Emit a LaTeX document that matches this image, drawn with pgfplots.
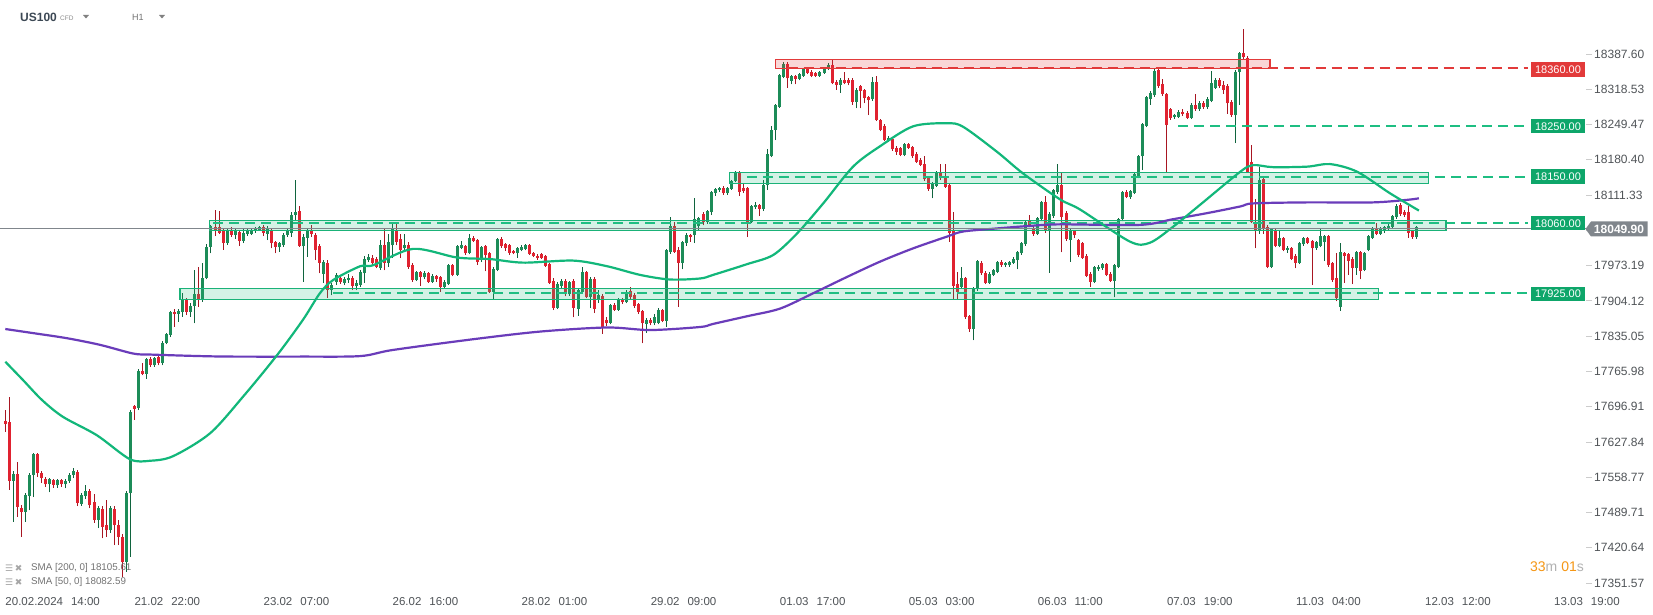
\documentclass[border=0pt]{standalone}
\usepackage{fontspec}
\setmainfont{Liberation Sans}
\newfontfamily\dejavu{DejaVu Sans}
\usepackage{pgfplots}
\usepackage{pgfplotstable}
\pgfplotsset{compat=1.18}
\definecolor{cgreen}{RGB}{28,140,88}
\definecolor{cgreenD}{RGB}{16,100,62}
\definecolor{cred}{RGB}{224,34,48}
\definecolor{credD}{RGB}{168,22,34}
\definecolor{smafifty}{RGB}{18,183,122}
\definecolor{smatwo}{RGB}{106,60,186}
\definecolor{zoneG}{RGB}{26,178,120}
\definecolor{zoneGfill}{RGB}{43,191,133}
\definecolor{dashG}{RGB}{30,190,130}
\definecolor{labG}{RGB}{14,166,106}
\definecolor{zoneR}{RGB}{226,58,58}
\definecolor{tickgray}{RGB}{80,84,88}
\definecolor{pricegray}{RGB}{128,134,140}
\definecolor{orangec}{RGB}{245,150,20}
\definecolor{headc}{RGB}{60,72,84}

\pgfplotstableread{
x o h l c
0 17669 17690 17648 17663
1 17666 17716 17534 17552
2 17552 17570 17472 17566
3 17566 17589 17481 17501
4 17498 17504 17442 17491
5 17491 17528 17472 17523
6 17522 17568 17494 17563
7 17563 17606 17520 17604
8 17604 17606 17560 17568
9 17567 17570 17547 17557
10 17556 17560 17540 17545
11 17545 17558 17529 17555
12 17554 17556 17538 17544
13 17543 17556 17538 17553
14 17553 17556 17540 17545
15 17545 17556 17537 17552
16 17552 17568 17548 17563
17 17563 17576 17557 17570
18 17569 17572 17502 17508
19 17507 17528 17503 17523
20 17522 17544 17516 17532
21 17532 17536 17498 17504
22 17510 17525 17470 17475
23 17475 17502 17459 17498
24 17497 17502 17439 17462
25 17465 17514 17442 17455
26 17455 17503 17450 17498
27 17497 17502 17426 17465
28 17465 17475 17426 17442
29 17442 17448 17364 17393
30 17393 17532 17374 17527
31 17527 17690 17403 17687
32 17698 17700 17671 17693
33 17695 17770 17690 17766
34 17766 17782 17758 17761
35 17761 17793 17752 17790
36 17791 17795 17775 17779
37 17778 17795 17775 17792
38 17794 17797 17778 17782
39 17782 17825 17778 17822
40 17822 17842 17819 17839
41 17838 17884 17833 17882
42 17882 17889 17853 17878
43 17878 17889 17863 17884
44 17882 17919 17873 17906
45 17906 17909 17876 17883
46 17883 17900 17873 17895
47 17894 17965 17860 17918
48 17917 17971 17893 17908
49 17908 17978 17902 17948
50 17948 18015 17946 18010
51 18010 18053 17997 18050
52 18049 18083 18031 18043
53 18048 18080 18035 18038
54 18041 18045 18004 18018
55 18018 18045 18014 18041
56 18041 18048 18030 18034
57 18034 18044 18026 18040
58 18039 18043 18012 18022
59 18022 18044 18017 18038
60 18035 18046 18032 18041
61 18036 18046 18033 18043
62 18040 18048 18038 18045
63 18043 18051 18041 18048
64 18048 18052 18031 18038
65 18036 18050 18023 18045
66 18040 18046 18007 18017
67 18020 18022 17997 18010
68 18009 18020 18000 18017
69 18013 18037 18010 18033
70 18033 18046 18030 18041
71 18037 18079 18030 18072
72 18072 18141 18062 18079
73 18080 18090 18010 18012
74 18011 18035 17942 18029
75 18028 18046 17991 18043
76 18043 18053 18030 18035
77 18034 18038 17984 18004
78 18012 18015 17958 17979
79 17957 17985 17940 17980
80 17979 17984 17910 17926
81 17925 17940 17915 17935
82 17942 17958 17935 17955
83 17948 17950 17938 17942
84 17940 17950 17935 17946
85 17945 17956 17940 17949
86 17949 17952 17925 17933
87 17933 17945 17925 17940
88 17936 17965 17932 17960
89 17958 17992 17940 17987
90 17984 17996 17980 17991
91 17989 17994 17975 17978
92 17987 17990 17968 17971
93 17968 18023 17965 18013
94 18013 18045 17964 17979
95 17979 18036 17970 18019
96 18013 18056 17988 18046
97 18043 18056 18013 18020
98 18025 18036 17988 18003
99 18007 18036 18000 18013
100 18013 18020 17967 17970
101 17974 17978 17942 17945
102 17945 17962 17943 17960
103 17960 17963 17933 17951
104 17950 17962 17946 17959
105 17959 17961 17940 17942
106 17942 17956 17940 17953
107 17953 17955 17942 17946
108 17951 17953 17922 17932
109 17931 17945 17928 17942
110 17937 17976 17935 17974
111 17974 17977 17952 17955
112 17955 18013 17953 18011
113 18008 18021 18005 18013
114 18011 18014 17994 17997
115 17998 18036 17995 18028
116 18028 18031 18019 18022
117 18023 18026 17975 17981
118 17984 18012 17980 18010
119 18011 18014 17962 17994
120 17998 18000 17920 17922
121 17922 17970 17906 17966
122 17965 18028 17962 18025
123 18025 18029 18008 18011
124 18015 18018 18002 18007
125 18013 18016 17994 17998
126 18002 18004 17995 17997
127 17997 18009 17989 18007
128 18004 18013 18001 18010
129 18005 18016 18003 18013
130 18013 18015 17994 17996
131 17998 18000 17990 17992
132 17992 17996 17985 17989
133 17996 17998 17986 17989
134 17992 17994 17970 17973
135 17976 17978 17937 17940
136 17943 17948 17886 17891
137 17891 17941 17888 17937
138 17933 17946 17928 17943
139 17943 17946 17913 17917
140 17917 17944 17914 17941
141 17943 17946 17872 17891
142 17889 17928 17875 17925
143 17922 17970 17920 17960
144 17960 17963 17909 17911
145 17911 17950 17890 17947
146 17947 17951 17880 17889
147 17907 17925 17900 17915
148 17914 17918 17840 17853
149 17866 17872 17855 17860
150 17861 17898 17858 17896
151 17897 17900 17884 17887
152 17887 17909 17885 17906
153 17906 17910 17898 17901
154 17901 17925 17899 17922
155 17923 17932 17908 17912
156 17916 17919 17890 17894
157 17898 17900 17878 17883
158 17884 17887 17821 17860
159 17859 17870 17842 17867
160 17867 17870 17856 17860
161 17860 17878 17856 17872
162 17861 17890 17858 17886
163 17886 17889 17862 17865
164 17865 18006 17853 18004
165 18000 18069 17996 18051
166 18051 18058 17998 18000
167 18003 18010 17893 17979
168 17979 18022 17966 18020
169 18017 18038 18012 18034
170 18034 18036 18020 18030
171 18033 18105 18017 18064
172 18050 18068 18042 18066
173 18074 18078 18052 18059
174 18059 18083 18055 18081
175 18078 18119 18072 18117
176 18115 18126 18110 18124
177 18121 18128 18118 18126
178 18126 18129 18112 18115
179 18115 18128 18112 18126
180 18124 18141 18122 18139
181 18139 18158 18136 18156
182 18154 18158 18110 18118
183 18126 18135 18115 18120
184 18126 18128 18029 18059
185 18059 18092 18056 18090
186 18087 18098 18084 18092
187 18092 18094 18070 18085
188 18085 18141 18080 18131
189 18131 18202 18121 18191
190 18188 18247 18185 18239
191 18239 18290 18219 18288
192 18284 18348 18282 18346
193 18343 18372 18340 18368
194 18368 18372 18322 18340
195 18335 18347 18328 18344
196 18344 18347 18328 18339
197 18339 18350 18336 18348
198 18345 18360 18343 18358
199 18358 18361 18348 18350
200 18353 18356 18342 18345
201 18351 18353 18343 18345
202 18345 18355 18343 18353
203 18351 18360 18349 18358
204 18358 18370 18356 18366
205 18366 18377 18328 18330
206 18333 18336 18318 18327
207 18327 18340 18312 18337
208 18337 18352 18328 18331
209 18337 18340 18326 18331
210 18337 18340 18288 18294
211 18294 18322 18281 18318
212 18324 18327 18281 18315
213 18317 18319 18291 18301
214 18304 18306 18268 18297
215 18299 18343 18296 18333
216 18333 18344 18256 18258
217 18258 18261 18236 18239
218 18247 18250 18217 18219
219 18218 18227 18215 18224
220 18222 18225 18198 18201
221 18204 18208 18190 18196
222 18204 18206 18187 18190
223 18190 18213 18187 18211
224 18211 18214 18202 18204
225 18206 18208 18184 18187
226 18192 18195 18174 18177
227 18180 18183 18168 18171
228 18173 18188 18139 18142
229 18145 18148 18120 18123
230 18123 18136 18105 18134
231 18130 18159 18127 18156
232 18154 18173 18141 18144
233 18147 18173 18126 18128
234 18131 18134 18020 18038
235 18043 18079 17906 17933
236 17937 17961 17906 17922
237 17932 17971 17928 17948
238 17948 17951 17869 17872
239 17874 17877 17844 17850
240 17850 17931 17827 17929
241 17927 17984 17924 17982
242 17979 17982 17955 17958
243 17959 17962 17937 17940
244 17940 17960 17938 17957
245 17955 17967 17952 17965
246 17961 17983 17958 17981
247 17981 17984 17971 17974
248 17974 17981 17970 17979
249 17974 17983 17971 17981
250 17979 17990 17976 17986
251 17984 18002 17966 18000
252 17997 18019 17994 18017
253 18015 18061 18012 18059
254 18062 18072 18048 18051
255 18046 18050 18032 18036
256 18036 18068 18033 18066
257 18064 18099 18060 18097
258 18097 18110 18038 18042
259 18040 18078 17959 18074
260 18070 18124 18066 18121
261 18118 18172 18114 18131
262 18131 18157 17999 18069
263 18076 18080 18022 18025
264 18023 18046 17981 18043
265 18040 18043 18028 18033
266 18023 18026 17990 17994
267 18017 18020 17986 17989
268 17992 17995 17950 17953
269 17957 17960 17932 17942
270 17942 17972 17939 17970
271 17966 17974 17963 17971
272 17968 17979 17965 17976
273 17976 17979 17952 17955
274 17957 17960 17941 17944
275 17944 17977 17911 17974
276 17971 18066 17968 18064
277 18064 18120 18060 18117
278 18118 18121 18105 18108
279 18107 18122 18104 18119
280 18116 18156 18113 18153
281 18147 18190 18144 18187
282 18187 18253 18160 18250
283 18247 18306 18244 18303
284 18299 18315 18288 18312
285 18307 18358 18304 18355
286 18356 18359 18322 18325
287 18329 18338 18306 18309
288 18309 18312 18157 18249
289 18279 18282 18259 18262
290 18264 18271 18261 18268
291 18265 18278 18262 18275
292 18275 18279 18266 18270
293 18273 18276 18260 18263
294 18263 18291 18260 18288
295 18288 18309 18276 18279
296 18279 18295 18276 18292
297 18292 18295 18280 18283
298 18283 18303 18280 18300
299 18296 18355 18293 18331
300 18322 18340 18319 18337
301 18337 18340 18321 18324
302 18327 18334 18310 18318
303 18325 18328 18271 18291
304 18294 18297 18265 18268
305 18268 18356 18213 18353
306 18352 18392 18288 18389
307 18389 18436 18378 18381
308 18379 18383 18155 18157
309 18177 18209 18056 18059
310 18059 18103 18007 18040
311 18040 18167 18036 18141
312 18142 18146 18036 18046
313 18049 18052 17968 17971
314 17971 18046 17968 18044
315 18043 18046 18009 18012
316 18012 18043 18009 18027
317 18027 18030 18001 18004
318 18004 18012 17998 18008
319 18007 18010 17984 17987
320 17992 17995 17968 17979
321 17979 18020 17976 18017
322 18015 18030 18012 18027
323 18027 18030 18015 18018
324 18021 18024 17935 18007
325 18007 18022 18004 18019
326 18012 18045 18009 18031
327 18020 18034 17982 18031
328 18031 18034 17971 17974
329 17978 17981 17942 17945
330 17948 17997 17903 17909
331 17893 18017 17885 18000
332 17997 18000 17940 17992
333 17995 17998 17955 17983
334 17987 17990 17937 17969
335 17969 18002 17955 17999
336 17999 18002 17946 17963
337 17965 18000 17962 17997
338 18004 18034 18001 18031
339 18028 18048 18025 18045
340 18045 18056 18033 18036
341 18036 18048 18033 18045
342 18040 18051 18037 18048
343 18046 18054 18043 18051
344 18048 18073 18045 18070
345 18068 18093 18065 18090
346 18092 18095 18071 18074
347 18079 18082 18069 18072
348 18079 18090 18028 18038
349 18040 18043 18026 18029
350 18029 18051 18026 18048
}\candles

\begin{document}
\begin{tikzpicture}[x=1pt,y=1pt]
\useasboundingbox (0,0) rectangle (1653,614);
\fill[white] (0,0) rectangle (1653,614);
\begin{axis}[
  at={(0pt,24pt)}, anchor=south west,
  scale only axis, width=1586pt, height=570pt,
  xmin=-1.314, xmax=391.94, ymin=17337.9, ymax=18454.2,
  axis line style={draw=none},
  scaled y ticks=false, scaled x ticks=false,
  xtick={0,32,64,96,128,160,192,224,256,288,320,352,384},
  xticklabels={20.02.2024\hspace{8pt}14:00, 21.02\hspace{8pt}22:00, 23.02\hspace{8pt}07:00, 26.02\hspace{8pt}16:00, 28.02\hspace{8pt}01:00, 29.02\hspace{8pt}09:00, 01.03\hspace{8pt}17:00, 05.03\hspace{8pt}03:00, 06.03\hspace{8pt}11:00, 07.03\hspace{8pt}19:00, 11.03\hspace{8pt}04:00, 12.03\hspace{8pt}12:00, 13.03\hspace{8pt}19:00},
  xtick pos=bottom,
  xtick style={draw=none},
  xticklabel style={anchor=north west, inner sep=0pt, yshift=-1.5pt, font=\fontsize{11.5}{13}\selectfont, text=tickgray},
  ytick={17351.57,17420.64,17489.71,17558.77,17627.84,17696.91,17765.98,17835.05,17904.12,17973.19,18042.26,18111.33,18180.40,18249.47,18318.53,18387.60},
  yticklabels={17351.57,17420.64,17489.71,17558.77,17627.84,17696.91,17765.98,17835.05,17904.12,17973.19,18042.26,18111.33,18180.40,18249.47,18318.53,18387.60},
  ytick pos=right, yticklabel pos=right,
  tick align=outside, major tick length=6pt,
  ytick style={draw=black!20, line width=0.8pt},
  yticklabel style={anchor=west, inner sep=0pt, xshift=2pt, font=\fontsize{12}{13}\selectfont, text=tickgray},
  clip=true,
]
% wicks
\addplot[draw=none, mark=none, forget plot,
  restrict expr to domain={\thisrow{c}-\thisrow{o}}{0:5000},
  error bars/.cd, y dir=plus, y explicit, error mark=none,
  error bar style={line width=1pt, draw=cgreenD, solid}]
  table[x=x, y=l, y error plus expr=\thisrow{h}-\thisrow{l}] {\candles};
\addplot[draw=none, mark=none, forget plot,
  restrict expr to domain={\thisrow{c}-\thisrow{o}}{-5000:-0.5},
  error bars/.cd, y dir=plus, y explicit, error mark=none,
  error bar style={line width=1pt, draw=credD, solid}]
  table[x=x, y=l, y error plus expr=\thisrow{h}-\thisrow{l}] {\candles};
% bodies
\addplot[draw=none, mark=none, forget plot,
  restrict expr to domain={\thisrow{c}-\thisrow{o}}{0:5000},
  error bars/.cd, y dir=plus, y explicit, error mark=none,
  error bar style={line width=3pt, draw=cgreen, solid}]
  table[x=x, y=o, y error plus expr=\thisrow{c}-\thisrow{o}] {\candles};
\addplot[draw=none, mark=none, forget plot,
  restrict expr to domain={\thisrow{c}-\thisrow{o}}{-5000:-0.5},
  error bars/.cd, y dir=plus, y explicit, error mark=none,
  error bar style={line width=3pt, draw=cred, solid}]
  table[x=x, y=c, y error plus expr=\thisrow{o}-\thisrow{c}] {\candles};

% dashed level lines
\addplot[forget plot, zoneR, line width=2pt, dash pattern=on 10pt off 6pt] coordinates {(194,18359.6) (377.6,18359.6)};
\addplot[forget plot, dashG, line width=2pt, dash pattern=on 10pt off 6pt] coordinates {(290.8,18247.2) (377.6,18247.2)};
\addplot[forget plot, dashG, line width=2pt, dash pattern=on 10pt off 6pt] coordinates {(183.9,18147.3) (377.6,18147.3)};
\addplot[forget plot, dashG, line width=2pt, dash pattern=on 10pt off 6pt] coordinates {(51.5,18056) (377.6,18056)};
\addplot[forget plot, dashG, line width=2pt, dash pattern=on 10pt off 6pt] coordinates {(81.3,17918.9) (377.6,17918.9)};

% zones
\addplot[forget plot, draw=zoneR, line width=1.2pt, fill=zoneR, fill opacity=0.2] coordinates {(190.9,18377.2) (313.6,18377.2) (313.6,18359.6) (190.9,18359.6)} -- cycle;
\addplot[forget plot, draw=zoneG, line width=1.2pt, fill=zoneGfill, fill opacity=0.2] coordinates {(179.5,18155.9) (352.8,18155.9) (352.8,18134.4) (179.5,18134.4)} -- cycle;
\addplot[forget plot, draw=zoneG, line width=1.2pt, fill=zoneGfill, fill opacity=0.2] coordinates {(50.6,18061.9) (357.2,18061.9) (357.2,18041.5) (50.6,18041.5)} -- cycle;
\addplot[forget plot, draw=zoneG, line width=1.2pt, fill=zoneGfill, fill opacity=0.2] coordinates {(43.3,17928.7) (340.4,17928.7) (340.4,17907.1) (43.3,17907.1)} -- cycle;

% SMA 200
\addplot[forget plot, smatwo, line width=2.2pt, smooth] coordinates {
(0,17849) (6.9,17841) (15.3,17831) (23.5,17818) (31.7,17801) (35.9,17799) (48.3,17796) (56.5,17795) (73.1,17795) (88,17796) (96.1,17808) (116,17829) (132.6,17844) (149.2,17852) (159.9,17847) (172.3,17853) (175.5,17859) (183.9,17874) (192.1,17889) (200.3,17919) (208.7,17951) (216.9,17981) (225.1,18007) (233.5,18030) (237.5,18040) (245.9,18046) (254.1,18051) (261.5,18054) (281.4,18053) (289.5,18064) (298,18076) (306.2,18089) (309.4,18095) (322.8,18097) (339.1,18097) (347.6,18102) (350.5,18105)};
% SMA 50
\addplot[forget plot, smafifty, line width=2.2pt, smooth] coordinates {
(0,17785) (4.4,17749) (9.1,17710) (14.3,17677) (22.7,17641) (30.9,17594) (35.9,17591) (41.6,17600) (50.8,17645) (59,17717) (67.4,17798) (73.8,17867) (78,17919) (81.3,17945) (88,17972) (91.2,17974) (101.1,18006) (112,17989) (120.2,17986) (128.4,17979) (140.8,17983) (149.2,17972) (157.4,17955) (164.8,17946) (172.3,17948) (175.5,17955) (183.9,17976) (190.4,17994) (196.3,18036) (202.8,18095) (210.2,18167) (216.9,18207) (225.1,18246) (233.5,18252) (237.5,18245) (245.9,18196) (252.3,18154) (261.5,18103) (266.5,18083) (278.9,18020) (283.8,18018) (289.5,18049) (296.2,18092) (306.2,18157) (309.4,18170) (314.3,18166) (322.8,18167) (328.5,18172) (335.2,18157) (343.3,18115) (350.5,18081)};

% current price line
\addplot[forget plot, pricegray, line width=0.9pt] coordinates {(-1.314,18046.3) (391.94,18046.3)};
\end{axis}

% level labels
\tikzset{lvl/.style={minimum width=54pt, minimum height=14.4pt, inner sep=0pt, text=white, font=\fontsize{11}{12}\selectfont}}
\node[lvl, fill=zoneR] at (1558,544.5) {18360.00};
\node[lvl, fill=labG] at (1558,487.7) {18250.00};
\node[lvl, fill=labG] at (1558,437.3) {18150.00};
\node[lvl, fill=labG] at (1558,390.7) {18060.00};
\node[lvl, fill=labG] at (1558,320) {17925.00};
% current price label
\fill[pricegray] (1585.5,385) -- (1591,392.5) -- (1647.5,392.5) -- (1647.5,377.5) -- (1591,377.5) -- cycle;
\node[text=white, font=\bfseries\fontsize{12}{13}\selectfont, inner sep=0pt] at (1619,385) {18049.90};

% header
\node[anchor=west, inner sep=0pt, text=headc, font=\bfseries\fontsize{12}{13}\selectfont] at (20,596.3) {US100};
\node[anchor=west, inner sep=0pt, text=black!45, font=\fontsize{6.5}{7}\selectfont] at (60,596) {CFD};
\fill[black!50] (83,599) -- (89,599) -- (86,595.5) -- cycle;
\node[anchor=west, inner sep=0pt, text=black!55, font=\fontsize{9}{10}\selectfont] at (132,596.3) {H1};
\fill[black!50] (159,599) -- (165,599) -- (162,595.5) -- cycle;

% SMA legend
\node[anchor=west, inner sep=0pt, text=black!35, font=\dejavu\fontsize{9}{10}\selectfont] at (5,46) {☰\,✖};
\node[anchor=west, inner sep=0pt, text=black!55, font=\fontsize{9.8}{11}\selectfont] at (31,46) {SMA [200,\ 0] 18105.61};
\node[anchor=west, inner sep=0pt, text=black!35, font=\dejavu\fontsize{9}{10}\selectfont] at (5,32) {☰\,✖};
\node[anchor=west, inner sep=0pt, text=black!55, font=\fontsize{9.8}{11}\selectfont] at (31,32) {SMA [50,\ 0] 18082.59};

% countdown
\node[anchor=east, inner sep=0pt, font=\fontsize{14}{15}\selectfont] at (1584,47) {\textcolor{orangec}{33}\textcolor{black!30}{m} \textcolor{orangec}{01}\textcolor{black!30}{s}};
\end{tikzpicture}
\end{document}
